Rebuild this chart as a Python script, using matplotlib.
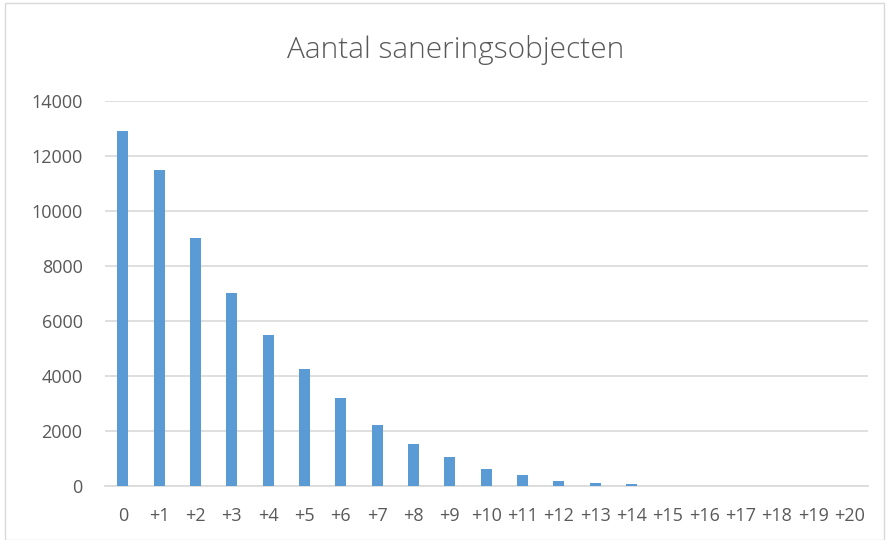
import numpy as np
import matplotlib.pyplot as plt
from matplotlib.patches import Rectangle

# Data
categories = ["0"] + ["+" + str(i) for i in range(1, 21)]
values = [12900, 11500, 9000, 7000, 5500, 4250, 3200, 2220, 1530, 1050,
          620, 400, 180, 100, 60, 0, 0, 0, 0, 0, 0]
yticks = [0, 2000, 4000, 6000, 8000, 10000, 12000, 14000]

plt.rcParams['font.family'] = ['Open Sans', 'DejaVu Sans']

fig = plt.figure(figsize=(8.88, 5.4), dpi=100)
ax = fig.add_axes([0.118, 0.1, 0.859, 0.713])

x = np.arange(len(categories))
ax.bar(x, values, width=0.3, color="#5b9bd5", zorder=3)

ax.set_xlim(-0.5, len(categories) - 0.5)
ax.set_ylim(0, 14000)
ax.set_yticks(yticks)
ax.set_yticklabels([str(t) for t in yticks])
ax.set_xticks(x)
ax.set_xticklabels(categories)

ax.grid(axis="y", color="#d9d9d9", linewidth=1.2, zorder=0)
for s in ["top", "right", "left"]:
    ax.spines[s].set_visible(False)
ax.spines["bottom"].set_color("#d9d9d9")
ax.spines["bottom"].set_linewidth(1.2)
ax.tick_params(axis="both", length=0, labelsize=13, labelcolor="#595959")
ax.tick_params(axis="y", pad=16)
ax.tick_params(axis="x", pad=15)

fig.text(0.513, 0.907, "Aantal saneringsobjecten", ha="center", va="center",
         fontsize=21.5, color="#595959", fontweight="light")

# light border around the chart area
fig.patches.append(Rectangle((0.006, 0.0), 0.989, 0.994, transform=fig.transFigure,
                             fill=False, edgecolor="#d9d9d9", linewidth=1))

fig.savefig("out.png", dpi=100)
